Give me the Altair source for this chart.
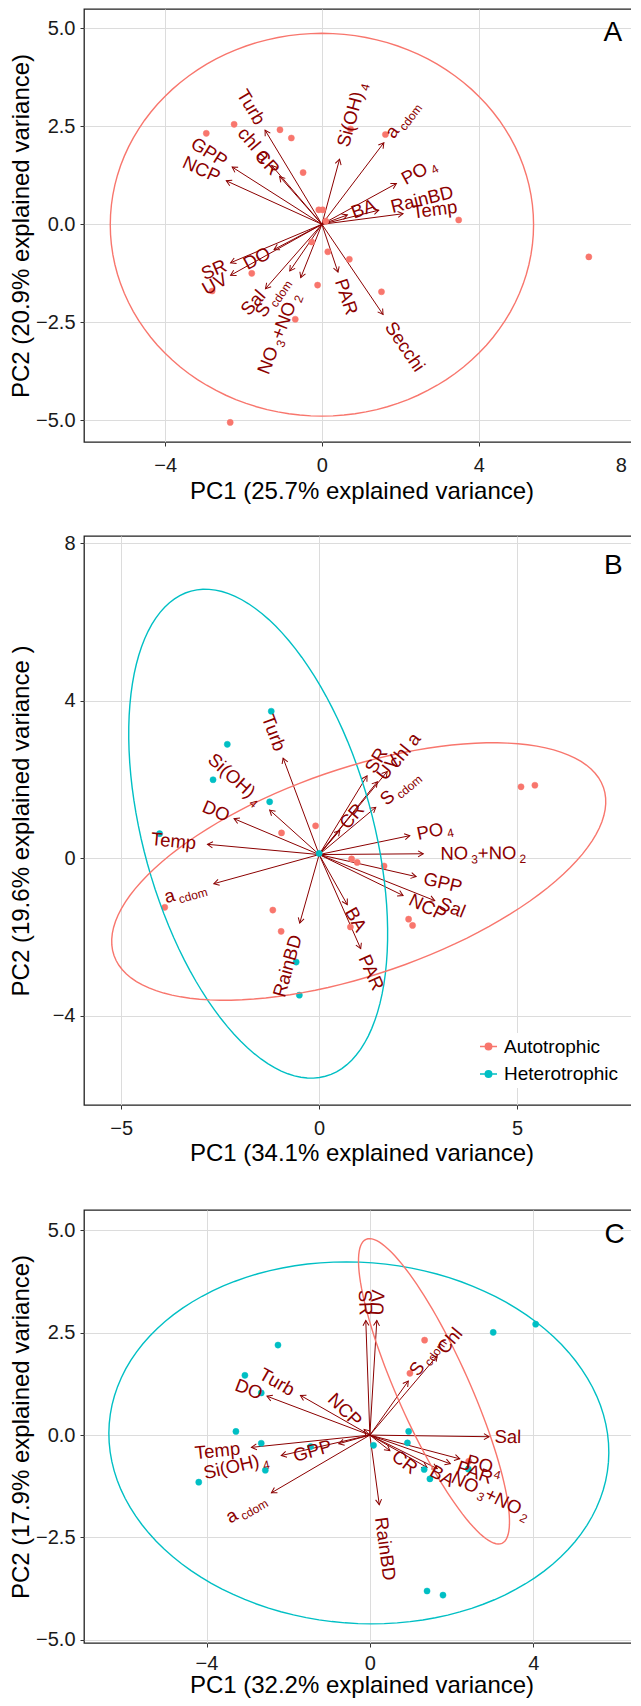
import math
import altair as alt
import pandas as pd

FONT = "Liberation Sans"
VAR_COLOR = "#8B0000"
GROUPS = ["Autotrophic", "Heterotrophic"]
GROUP_COLORS = ["#F8766D", "#00BFC4"]

# ------------------------------------------------------------------ Panel A
A_xdom = [-6.07, 8.09]
A_ydom = [-5.55, 5.49]
A_xticks = [-4, 0, 4, 8]
A_yticks = [-5, -2.5, 0, 2.5, 5]
A_xtitle = "PC1 (25.7% explained variance)"
A_ytitle = "PC2 (20.9% explained variance)"
A_pt_x = [-2.95, -2.24, -1.07, -0.78, -0.48, -0.08, 0.02, 0.10, -0.26, 0.15, 0.70,
          -1.79, -2.80, -0.11, 1.52, -0.68, 1.62, 3.49, 6.81, -2.34, 0.73]
A_pt_y = [2.32, 2.55, 2.41, 2.20, 1.32, 0.37, 0.37, 0.08, -0.45, -0.70, -0.89,
          -1.25, -1.70, -1.55, -1.72, -2.42, 2.29, 0.11, -0.83, -5.05, 2.43]
A_pt_group = ["Autotrophic"] * len(A_pt_x)
A_var = ["Turb", "chl a", "CR", "GPP", "NCP", "Si(OH)_{4}", "a_{cdom}", "PO_{4}", "BA",
         "RainBD", "Temp", "DO", "SR", "UV", "Sal", "S_{cdom}", "NO_{3}+NO_{2}", "PAR", "Secchi"]
A_var_x = [-1.45, -1.28, -1.08, -2.29, -2.44, 0.45, 1.58, 1.90, 0.65,
           1.45, 2.07, -1.22, -2.33, -2.33, -1.44, -0.82, -0.54, 0.41, 1.56]
A_var_y = [2.40, 1.50, 1.22, 1.46, 1.11, 1.66, 2.08, 1.04, 0.24,
           0.36, 0.27, -0.64, -0.98, -1.30, -1.64, -1.19, -1.36, -1.22, -2.30]
A_origin = [0.0, 0.0]
A_ell_group = ["Autotrophic"]
A_ell_cx = [0.0]
A_ell_cy = [-0.01]
A_ell_a = [5.40]
A_ell_b = [4.88]
A_ell_rot = [0.0]
A_letter = ["A"]
A_letter_x = [7.42]
A_letter_y = [4.87]

# ------------------------------------------------------------------ Panel B
B_xdom = [-5.94, 8.08]
B_ydom = [-6.27, 8.18]
B_xticks = [-5, 0, 5]
B_yticks = [-4, 0, 4, 8]
B_xtitle = "PC1 (34.1% explained variance)"
B_ytitle = "PC2 (19.6% explained variance )"
B_pt_x = [-1.21, -2.32, -2.68, -1.25, -4.03, 0.00, -0.58, -0.50,
          -0.09, -0.95, 0.82, 0.96, 1.64, -3.90, -1.17, -0.96, 0.79, 2.26, 2.36, 5.10, 5.45]
B_pt_y = [3.73, 2.89, 1.99, 1.43, 0.62, 0.12, -2.64, -3.48,
          0.82, 0.64, -0.02, -0.11, -0.20, -1.25, -1.32, -1.86, -1.75, -1.55, -1.71, 1.81, 1.85]
B_pt_group = ["Heterotrophic"] * 8 + ["Autotrophic"] * 13
B_var = ["Turb", "Si(OH)_{4}", "DO", "Temp", "a_{cdom}", "RainBD", "BA", "PAR", "Sal",
         "NCP", "GPP", "NO_{3}+NO_{2}", "PO_{4}", "S_{cdom}", "CR", "SR", "UV", "chl a"]
B_var_x = [-0.91, -1.25, -2.15, -2.82, -2.66, -0.49, 0.71, 1.05, 2.92,
           2.12, 2.45, 2.63, 2.29, 1.43, 0.52, 1.21, 1.47, 1.72]
B_var_y = [2.54, 1.22, 1.00, 0.35, -0.65, -1.65, -1.18, -2.30, -1.08,
           -0.95, -0.47, 0.11, 0.57, 1.29, 0.70, 2.09, 1.94, 2.20]
B_origin = [0.0, 0.09]
B_ell_group = ["Heterotrophic", "Autotrophic"]
B_ell_cx = [-1.54, 1.00]
B_ell_cy = [0.62, -0.34]
B_ell_a = [6.39, 6.54]
B_ell_b = [2.90, 2.62]
B_ell_rot = [105.4, 19.05]
B_letter = ["B"]
B_letter_x = [7.43]
B_letter_y = [7.41]

# ------------------------------------------------------------------ Panel C
C_xdom = [-7.0, 6.59]
C_ydom = [-5.08, 5.50]
C_xticks = [-4, 0, 4]
C_yticks = [-5, -2.5, 0, 2.5, 5]
C_xtitle = "PC1 (32.2% explained variance)"
C_ytitle = "PC2 (17.9% explained variance)"
C_pt_x = [-2.25, -3.06, -2.66, -3.28, -2.66, -1.45, -2.56, -4.19, 0.09, 0.95, 0.92,
          1.33, 1.47, 2.41, 3.02, 4.06, 1.40, 1.79, 1.34, 0.98, 2.42]
C_pt_y = [2.20, 1.46, 1.03, 0.09, -0.20, -0.28, -0.86, -1.15, -0.25, 0.09, -0.19,
          -0.84, -1.07, -0.83, 2.51, 2.71, -3.81, -3.91, 2.32, 1.51, -0.64]
C_pt_group = ["Heterotrophic"] * 18 + ["Autotrophic"] * 3
C_var = ["SR", "UV", "S_{cdom}", "Chl", "Sal", "PO_{4}", "PAR", "NO_{3}+NO_{2}", "BA",
         "CR", "Turb", "DO", "NCP", "GPP", "Temp", "Si(OH)_{4}", "a_{cdom}", "RainBD"]
C_var_x = [-0.10, 0.17, 0.94, 1.65, 2.92, 2.20, 1.97, 1.65, 1.40,
           0.49, -1.70, -2.52, -0.14, -0.76, -2.90, -2.17, -2.41, 0.23]
C_var_y = [2.80, 2.80, 1.32, 1.94, -0.04, -0.58, -0.70, -0.82, -0.79,
           -0.38, 0.97, 0.95, 0.14, -0.21, -0.30, -0.50, -1.41, -1.70]
C_origin = [0.0, 0.0]
C_ell_group = ["Heterotrophic", "Autotrophic"]
C_ell_cx = [-0.27, 1.57]
C_ell_cy = [-0.19, 1.07]
C_ell_a = [6.13, 4.07]
C_ell_b = [4.41, 0.88]
C_ell_rot = [-4.4, -65.85]
C_letter = ["C"]
C_letter_x = [5.99]
C_letter_y = [4.90]

# ------------------------------------------------------------------ helpers
PLOT_W = 555
MAIN_SIZE = 18.5
SUB_SIZE = 12
SUB_GAP = 3.0
SUB_SHIFT = 6.0
GAP_FRAC = 0.2
HEAD_PATH = "M-0.5,0.866L0,0L0.5,0.866"
LEGEND_PATH = "M-1,0L1,0M0.38,0A0.38,0.38,0,1,1,-0.38,0A0.38,0.38,0,1,1,0.38,0Z"

CHAR_W = {" ": 278, "(": 333, ")": 333, "+": 584, "A": 667, "B": 667, "C": 722, "D": 722,
          "G": 778, "H": 722, "N": 722, "O": 778, "P": 667, "R": 722, "S": 667, "T": 611,
          "U": 722, "V": 667, "a": 556, "b": 556, "c": 500, "d": 556, "e": 556, "h": 556,
          "i": 222, "l": 222, "m": 833, "n": 556, "o": 556, "p": 556, "r": 333, "s": 500,
          "t": 278, "u": 556}


def text_w(s, size):
    return sum(CHAR_W.get(c, 556) for c in s) * size / 1000.0


def parse_label(lbl):
    segs, buf, i = [], "", 0
    while i < len(lbl):
        if lbl[i] == "_" and lbl[i + 1:i + 2] == "{":
            if buf:
                segs.append((buf, False))
                buf = ""
            j = lbl.index("}", i)
            segs.append((lbl[i + 2:j], True))
            i = j + 1
        else:
            buf += lbl[i]
            i += 1
    if buf:
        segs.append((buf, False))
    return segs


def label_rows(names, xs, ys, origin, ppx, ppy):
    rows = []
    for name, x, y in zip(names, xs, ys):
        vx, vy = x - origin[0], y - origin[1]
        a = -math.degrees(math.atan(vy / vx))
        ar = math.radians(a)
        r = (math.cos(ar), math.sin(ar))
        n = (-math.sin(ar), math.cos(ar))
        segs = parse_label(name)
        info, total = [], 0.0
        for t, sub in segs:
            w = text_w(t, SUB_SIZE if sub else MAIN_SIZE)
            gap = SUB_GAP if sub else 0.0
            info.append((w, gap))
            total += w + gap
        lead = max(4.0, GAP_FRAC * total)
        cum = lead if vx > 0 else -(total + lead)
        for (t, sub), (w, gap) in zip(segs, info):
            cum += gap
            off = SUB_SHIFT if sub else 0.0
            sx = cum * r[0] + off * n[0]
            sy = cum * r[1] + off * n[1]
            rows.append(dict(lx=x + sx / ppx, ly=y - sy / ppy, txt=t, ang=a % 360,
                             fs=SUB_SIZE if sub else MAIN_SIZE))
            cum += w
    return pd.DataFrame(rows)


def ellipse_df(groups, cxs, cys, As, Bs, rots, n=120):
    rows = []
    for g, cx, cy, a, b, rot in zip(groups, cxs, cys, As, Bs, rots):
        phi = math.radians(rot)
        for k in range(n + 1):
            t = 2 * math.pi * k / n
            rows.append(dict(group=g, i=k,
                             x=cx + a * math.cos(t) * math.cos(phi) - b * math.sin(t) * math.sin(phi),
                             y=cy + a * math.cos(t) * math.sin(phi) + b * math.sin(t) * math.cos(phi)))
    return pd.DataFrame(rows)


def make_panel(P, height, with_legend):
    xs = alt.Scale(domain=P["xdom"], nice=False, zero=False)
    ys = alt.Scale(domain=P["ydom"], nice=False, zero=False)
    ppx = PLOT_W / (P["xdom"][1] - P["xdom"][0])
    ppy = height / (P["ydom"][1] - P["ydom"][0])
    xaxis = alt.Axis(values=P["xticks"], format=P["xfmt"], labelPadding=P["xlp"],
                     titlePadding=P["xtp"], labelFlush=P["xflush"], labelFlushOffset=-9)
    yaxis = alt.Axis(values=P["yticks"], format=P["yfmt"], titlePadding=P["ytp"])

    def X(f):
        return alt.X(f + ":Q", scale=xs, axis=xaxis, title=P["xtitle"])

    def Y(f):
        return alt.Y(f + ":Q", scale=ys, axis=yaxis, title=P["ytitle"])

    cscale = alt.Scale(domain=GROUPS, range=GROUP_COLORS)
    if with_legend:
        leg = alt.Legend(title=None, orient="none", legendX=391, legendY=497, padding=4,
                         fillColor="white", labelFont=FONT, labelFontSize=19,
                         labelColor="black", symbolType=LEGEND_PATH, symbolSize=289,
                         symbolStrokeWidth=1.5, rowPadding=7.5, labelOffset=6)
    else:
        leg = None

    ox, oy = P["origin"]
    arrows = pd.DataFrame(dict(x0=[ox] * len(P["vx"]), y0=[oy] * len(P["vx"]),
                               x1=P["vx"], y1=P["vy"]))
    heads = pd.DataFrame(dict(x=P["vx"], y=P["vy"],
                              ang=[math.degrees(math.atan2((x - ox) * ppx, (y - oy) * ppy)) % 360
                                   for x, y in zip(P["vx"], P["vy"])]))
    pts = pd.DataFrame(dict(x=P["px"], y=P["py"], group=P["pg"]))
    ell = ellipse_df(*P["ell"])
    lbl = label_rows(P["vn"], P["vx"], P["vy"], P["origin"], ppx, ppy)
    letter = pd.DataFrame(dict(x=P["lx"], y=P["ly"], t=P["lt"]))

    l_arrows = alt.Chart(arrows).mark_rule(color=VAR_COLOR, strokeWidth=1).encode(
        x=X("x0"), y=Y("y0"), x2="x1:Q", y2="y1:Q")
    l_heads = alt.Chart(heads).mark_point(shape=HEAD_PATH, size=144, filled=False,
                                          color=VAR_COLOR, strokeWidth=1, opacity=1).encode(
        x=X("x"), y=Y("y"), angle=alt.Angle("ang:Q", scale=None))
    l_pts = alt.Chart(pts).mark_point(filled=True, size=38, opacity=1, strokeWidth=0.5).encode(
        x=X("x"), y=Y("y"),
        fill=alt.Fill("group:N", scale=cscale, legend=leg),
        stroke=alt.Stroke("group:N", scale=cscale, legend=leg))
    l_ell = alt.Chart(ell).mark_line(strokeWidth=1.4).encode(
        x=X("x"), y=Y("y"), order=alt.Order("i:Q"),
        stroke=alt.Stroke("group:N", scale=cscale, legend=leg))
    l_lbl = alt.Chart(lbl).mark_text(align="left", baseline="middle", color=VAR_COLOR,
                                     font=FONT).encode(
        x=X("lx"), y=Y("ly"), text="txt:N",
        size=alt.Size("fs:Q", scale=None), angle=alt.Angle("ang:Q", scale=None))
    l_letter = alt.Chart(letter).mark_text(fontSize=28, font=FONT, color="black",
                                           align="center", baseline="middle").encode(
        x=X("x"), y=Y("y"), text="t:N")
    return alt.layer(l_arrows, l_heads, l_pts, l_ell, l_lbl, l_letter).properties(
        width=PLOT_W, height=height)


def spacer(h):
    d = pd.DataFrame(dict(z=[0.0]))
    return alt.Chart(d).mark_point(opacity=0).encode(
        x=alt.X("z:Q", axis=None), y=alt.Y("z:Q", axis=None)
    ).properties(width=PLOT_W, height=h, view=alt.ViewBackground(stroke="transparent"))


PA = dict(xdom=A_xdom, ydom=A_ydom, xticks=A_xticks, yticks=A_yticks, xfmt="d", yfmt=".1f",
          xtitle=A_xtitle, ytitle=A_ytitle, px=A_pt_x, py=A_pt_y, pg=A_pt_group,
          vn=A_var, vx=A_var_x, vy=A_var_y, origin=A_origin,
          ell=(A_ell_group, A_ell_cx, A_ell_cy, A_ell_a, A_ell_b, A_ell_rot),
          lx=A_letter_x, ly=A_letter_y, lt=A_letter, xlp=9, xtp=4, ytp=2, xflush=6)
PB = dict(xdom=B_xdom, ydom=B_ydom, xticks=B_xticks, yticks=B_yticks, xfmt="d", yfmt="d",
          xtitle=B_xtitle, ytitle=B_ytitle, px=B_pt_x, py=B_pt_y, pg=B_pt_group,
          vn=B_var, vx=B_var_x, vy=B_var_y, origin=B_origin,
          ell=(B_ell_group, B_ell_cx, B_ell_cy, B_ell_a, B_ell_b, B_ell_rot),
          lx=B_letter_x, ly=B_letter_y, lt=B_letter, xlp=9, xtp=3, ytp=19, xflush=False)
PC = dict(xdom=C_xdom, ydom=C_ydom, xticks=C_xticks, yticks=C_yticks, xfmt="d", yfmt=".1f",
          xtitle=C_xtitle, ytitle=C_ytitle, px=C_pt_x, py=C_pt_y, pg=C_pt_group,
          vn=C_var, vx=C_var_x, vy=C_var_y, origin=C_origin,
          ell=(C_ell_group, C_ell_cx, C_ell_cy, C_ell_a, C_ell_b, C_ell_rot),
          lx=C_letter_x, ly=C_letter_y, lt=C_letter, xlp=6, xtp=0, ytp=2, xflush=False)

panelA = make_panel(PA, 433, False)
panelB = make_panel(PB, 569, True)
panelC = make_panel(PC, 433, False)

RES = dict(x="independent", y="independent", fill="independent", stroke="independent")
chart = alt.vconcat(panelA, spacer(94), panelB, spacer(105), panelC,
                    spacing=0, bounds="flush").resolve_scale(**RES).properties(
    padding={"top": 0, "right": -9, "left": 0, "bottom": 0})

chart = chart.configure(font=FONT).configure_axis(
    labelFont=FONT, titleFont=FONT, labelFontSize=20, titleFontSize=24,
    labelColor="#1a1a1a", titleColor="black", titleFontWeight="normal",
    gridColor="#DCDCDC", gridWidth=1, domain=False, tickColor="#333333",
    tickSize=4, tickWidth=1, labelOverlap=False, labelBound=False
).configure_axisY(labelPadding=5).configure_view(stroke="#222222", strokeWidth=1.3)

chart.save("out.html", embed_options={"renderer": "svg", "actions": False})
